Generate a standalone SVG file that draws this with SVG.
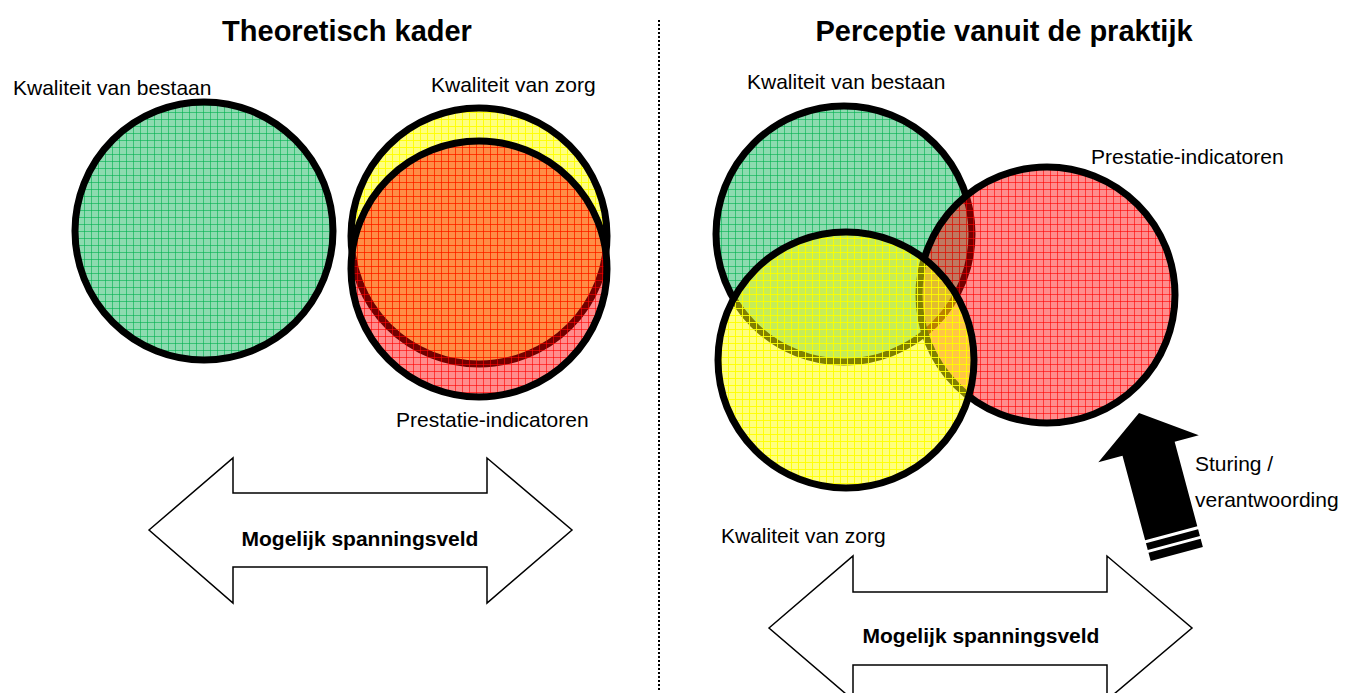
<svg xmlns="http://www.w3.org/2000/svg" width="1355" height="693" viewBox="0 0 1355 693">
<style>
text{font-family:"Liberation Sans",Arial,sans-serif;fill:#000}
.title{font-size:29px;font-weight:bold;text-anchor:middle}
.lbl{font-size:21px}
.arrowlbl{font-size:21px;font-weight:bold;text-anchor:middle}
.circ{stroke:#000;stroke-width:7}
.dbl{fill:#fff;stroke:#000;stroke-width:1.5}
</style>
<defs>
<pattern id="pg" width="7" height="7" patternUnits="userSpaceOnUse">
<rect width="7" height="7" fill="#00b050" fill-opacity="0.45"/>
<path d="M0 0.5H7M0.5 0V7" stroke="#00b050" stroke-opacity="0.6" stroke-width="1"/>
</pattern>
<pattern id="py" width="7" height="7" patternUnits="userSpaceOnUse">
<rect width="7" height="7" fill="#ffff00" fill-opacity="0.5"/>
<path d="M0 0.5H7M0.5 0V7" stroke="#ffff00" stroke-opacity="0.9" stroke-width="1"/>
</pattern>
<pattern id="pr" width="7" height="7" patternUnits="userSpaceOnUse">
<rect width="7" height="7" fill="#ff0000" fill-opacity="0.45"/>
<path d="M0 0.5H7M0.5 0V7" stroke="#ff0000" stroke-opacity="0.6" stroke-width="1"/>
</pattern>
</defs>
<rect width="1355" height="693" fill="#fff"/>

<g id="divider">
<line x1="659" y1="20" x2="659" y2="692" stroke="#000" stroke-width="2" stroke-dasharray="2,2"/>
</g>

<g id="titles">
<text class="title" x="347" y="41">Theoretisch kader</text>
<text class="title" x="1004" y="41">Perceptie vanuit de praktijk</text>
</g>

<g id="left-bestaan">
<circle class="circ" cx="204" cy="231" r="129" fill="url(#pg)"/>
<text class="lbl" x="13" y="95">Kwaliteit van bestaan</text>
</g>
<g id="left-zorg">
<circle class="circ" cx="479" cy="236" r="128" fill="url(#py)"/>
<text class="lbl" x="431" y="92">Kwaliteit van zorg</text>
</g>
<g id="left-prestatie">
<circle class="circ" cx="479" cy="269" r="128" fill="url(#pr)"/>
<text class="lbl" x="396" y="427">Prestatie-indicatoren</text>
</g>

<g id="right-bestaan">
<circle class="circ" cx="844" cy="234" r="128" fill="url(#pg)"/>
<text class="lbl" x="747" y="89">Kwaliteit van bestaan</text>
</g>
<g id="right-prestatie">
<circle class="circ" cx="1047" cy="295" r="128" fill="url(#pr)"/>
<text class="lbl" x="1091" y="164">Prestatie-indicatoren</text>
</g>
<g id="right-zorg">
<circle class="circ" cx="846" cy="360" r="128" fill="url(#py)"/>
<text class="lbl" x="721" y="543">Kwaliteit van zorg</text>
</g>

<g id="left-spanning">
<path class="dbl" d="M149 530L233 458V493H487V458L572 530L487 603V567H233V603Z"/>
<text class="arrowlbl" x="360" y="546">Mogelijk spanningsveld</text>
</g>
<g id="right-spanning">
<path class="dbl" d="M769 628L853 556V592H1107V556L1192 628L1107 700V665H853V700Z"/>
<text class="arrowlbl" x="981" y="643">Mogelijk spanningsveld</text>
</g>

<g id="sturing">
<g transform="translate(1139,413) rotate(-15)">
<path d="M0 0L52 37H27V146H-27V37H-52Z" fill="#000"/>
<path d="M-28 126H28M-28 136H28" stroke="#fff" stroke-width="3"/>
</g>
<text class="lbl" x="1195" y="471">Sturing /</text>
<text class="lbl" x="1195" y="507">verantwoording</text>
</g>
</svg>
